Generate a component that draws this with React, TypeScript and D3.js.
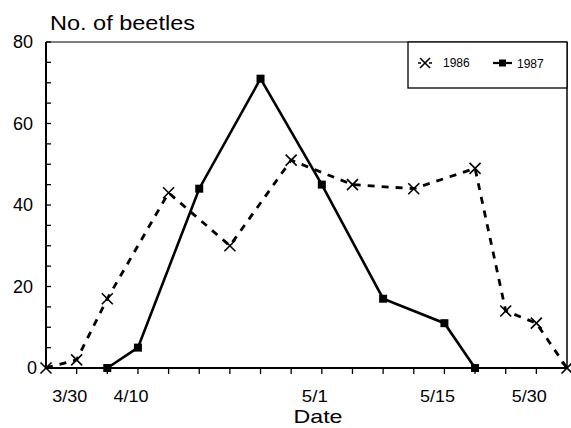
import React from "react";
import * as d3 from "d3";

const tickCount = 17; // tick intervals along the date axis
const dateLabels = ["3/30", "4/10", "5/1", "5/15", "5/30"];
const dateLabelTicks = [1, 3, 9, 13, 16];
const yTickLabels = [0, 20, 40, 60, 80];

const x1986 = [0, 1, 2, 4, 6, 8, 10, 12, 14, 15, 16, 17];
const y1986 = [0, 2, 17, 43, 30, 51, 45, 44, 49, 14, 11, 0];
const x1987 = [2, 3, 5, 7, 9, 11, 13, 14];
const y1987 = [0, 5, 44, 71, 45, 17, 11, 0];

const W = 571, H = 428;
const left = 46, right = 567, top = 42, bottom = 368;

export default function App() {
  const x = d3.scaleLinear().domain([0, tickCount]).range([left, right]);
  const y = d3.scaleLinear().domain([0, 80]).range([bottom, top]);
  const line = d3.line<[number, number]>().x(d => x(d[0])).y(d => y(d[1]));
  const d86 = x1986.map((v, i) => [v, y1986[i]] as [number, number]);
  const d87 = x1987.map((v, i) => [v, y1987[i]] as [number, number]);
  const font = "Liberation Sans, Arial, Helvetica, sans-serif";
  const cross = (cx: number, cy: number, s: number, k: string) => (
    <g key={k} stroke="#000" strokeWidth={1.6}>
      <line x1={cx - s} y1={cy - s} x2={cx + s} y2={cy + s} />
      <line x1={cx - s} y1={cy + s} x2={cx + s} y2={cy - s} />
    </g>
  );
  return (
    <svg width={W} height={H} style={{ position: "absolute", left: 0, top: 0, background: "#fff" }}>
      <rect x={0} y={0} width={W} height={H} fill="#fff" />
      <text x={50} y={30} fontFamily={font} fontSize={21} textLength={145} lengthAdjust="spacingAndGlyphs" fill="#000">No. of beetles</text>
      {/* frame */}
      <line x1={left} y1={top} x2={right} y2={top} stroke="#000" strokeWidth={1.2} />
      <line x1={right} y1={top} x2={right} y2={bottom} stroke="#000" strokeWidth={1.5} />
      <line x1={left} y1={top} x2={left} y2={bottom} stroke="#000" strokeWidth={2} />
      <line x1={left} y1={bottom} x2={right} y2={bottom} stroke="#000" strokeWidth={2} />
      {/* y ticks */}
      {d3.range(0, 81, 5).map(v => (
        <line key={"yt" + v} x1={left} x2={left + 5} y1={y(v)} y2={y(v)} stroke="#000" strokeWidth={1.3} />
      ))}
      {yTickLabels.map(v => (
        <text key={"yl" + v} x={v === 0 ? 37 : 33} y={y(v)} dy="0.36em" textAnchor="end" fontFamily={font} fontSize={18} fill="#000">{v}</text>
      ))}
      {/* x ticks */}
      {d3.range(1, tickCount).map(i => (
        <line key={"xt" + i} x1={x(i)} x2={x(i)} y1={bottom} y2={bottom + 6} stroke="#000" strokeWidth={1.3} />
      ))}
      {dateLabels.map((l, i) => (
        <text key={"xl" + l} x={x(dateLabelTicks[i]) - 7} y={402} textAnchor="middle" fontFamily={font} fontSize={16.5} textLength={l.length === 3 ? 26 : 35} lengthAdjust="spacingAndGlyphs" fill="#000">{l}</text>
      ))}
      <text x={318} y={423} textAnchor="middle" fontFamily={font} fontSize={19} textLength={49} lengthAdjust="spacingAndGlyphs" fill="#000">Date</text>
      {/* legend */}
      <rect x={408} y={top} width={right - 408} height={46} fill="#fff" stroke="#000" strokeWidth={1.3} />
      {cross(425, 63, 5, "lg86")}
      <line x1={418} x2={432} y1={63} y2={63} stroke="#000" strokeWidth={1.5} strokeDasharray="3,8" />
      <text x={443} y={67} fontFamily={font} fontSize={12} fill="#000">1986</text>
      <line x1={493} x2={512} y1={63} y2={63} stroke="#000" strokeWidth={2.2} />
      <rect x={499} y={59.5} width={7} height={7} fill="#000" />
      <text x={517} y={68} fontFamily={font} fontSize={12} fill="#000">1987</text>
      {/* series */}
      <path d={line(d86) || ""} fill="none" stroke="#000" strokeWidth={2.8} strokeDasharray="7,7" />
      <path d={line(d87) || ""} fill="none" stroke="#000" strokeWidth={2.6} />
      {d86.map((p, i) => cross(x(p[0]), y(p[1]), 5.5, "c" + i))}
      {d87.map((p, i) => (
        <rect key={"s" + i} x={x(p[0]) - 4} y={y(p[1]) - 4} width={8} height={8} fill="#000" />
      ))}
    </svg>
  );
}
